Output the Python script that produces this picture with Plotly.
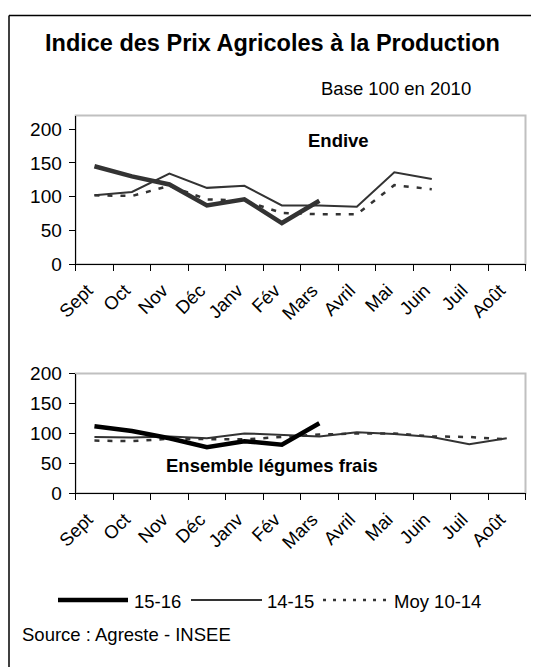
import plotly.graph_objects as go

# The page body adds an 8px margin, so the figure is drawn 8px right/down.
OFF = 8
W, H = 531, 659
FONT = "Liberation Sans, Arial, sans-serif"

months = ["Sept", "Oct", "Nov", "Déc", "Janv", "Fév", "Mars", "Avril", "Mai", "Juin", "Juil", "Août"]
y_ticks = [0, 50, 100, 150, 200]

endive_1516 = [145, 130, 118, 87, 96, 61, 94, None, None, None, None, None]
endive_1415 = [102, 107, 134, 113, 116, 87, 87, 85, 136, 126, None, None]
endive_moy = [102, 101, 116, 96, 94, 76, 74, 74, 117, 111, None, None]

legumes_1516 = [112, 104, 92, 77, 87, 81, 117, None, None, None, None, None]
legumes_1415 = [94, 93, 95, 92, 100, 98, 95, 102, 99, 94, 82, 92]
legumes_moy = [88, 87, 91, 90, 90, 94, 98, 100, 100, 95, 94, 90]

series_names = ["15-16", "14-15", "Moy 10-14"]


def px(x):
    return (x - OFF) / W


def py(y):
    return 1 - (y - OFF) / H


fig = go.Figure()

# Endive
fig.add_trace(go.Scatter(x=months, y=endive_1415, mode="lines", name=series_names[1],
                         line=dict(color="#333333", width=2), xaxis="x", yaxis="y"))
fig.add_trace(go.Scatter(x=months, y=endive_moy, mode="lines", name=series_names[2],
                         line=dict(color="#333333", width=2.5, dash="5px,8px"), xaxis="x", yaxis="y"))
fig.add_trace(go.Scatter(x=months, y=endive_1516, mode="lines", name=series_names[0],
                         line=dict(color="#333333", width=4.5), xaxis="x", yaxis="y"))

# Ensemble légumes frais
fig.add_trace(go.Scatter(x=months, y=legumes_1415, mode="lines", name=series_names[1],
                         line=dict(color="#333333", width=2), xaxis="x2", yaxis="y2"))
fig.add_trace(go.Scatter(x=months, y=legumes_moy, mode="lines", name=series_names[2],
                         line=dict(color="#333333", width=2.5, dash="5px,8px"), xaxis="x2", yaxis="y2"))
fig.add_trace(go.Scatter(x=months, y=legumes_1516, mode="lines", name=series_names[0],
                         line=dict(color="#000000", width=4.5), xaxis="x2", yaxis="y2"))

xdom = [px(75.7), px(525.5)]
xaxis_common = dict(
    type="category", categoryorder="array", categoryarray=months,
    range=[-0.5, 11.5], domain=xdom,
    showline=True, linecolor="black", linewidth=1.2,
    ticks="outside", ticklen=6, tickcolor="black", tickson="boundaries",
    tickangle=-45, ticklabelstandoff=7, ticklabelshift=-7,
    tickfont=dict(family=FONT, size=18.5, color="black"),
    showgrid=False, zeroline=False, automargin=False, fixedrange=True,
)
yaxis_common = dict(
    tickvals=y_ticks,
    showline=True, linecolor="black", linewidth=1.2,
    ticks="outside", ticklen=6, tickcolor="black", ticklabelstandoff=3,
    tickfont=dict(family=FONT, size=19, color="black"),
    showgrid=False, zeroline=False, automargin=False, fixedrange=True,
)

fig.update_layout(
    width=W, height=H,
    margin=dict(l=0, r=0, t=0, b=0),
    paper_bgcolor="white", plot_bgcolor="white",
    showlegend=False,
    xaxis=dict(anchor="y", **xaxis_common),
    yaxis=dict(anchor="x", domain=[py(264.3), py(115.5)], range=[0, 220], **yaxis_common),
    xaxis2=dict(anchor="y2", **xaxis_common),
    yaxis2=dict(anchor="x2", domain=[py(493.3), py(373.5)], range=[0, 200], **yaxis_common),
)

shapes = [
    # plot area boxes
    dict(type="rect", xref="x domain", yref="y domain", x0=0, x1=1, y0=0, y1=1,
         line=dict(color="#c0c0c0", width=2), layer="below"),
    dict(type="rect", xref="x2 domain", yref="y2 domain", x0=0, x1=1, y0=0, y1=1,
         line=dict(color="#c0c0c0", width=2), layer="below"),
    # outer frame (top and left)
    dict(type="line", xref="paper", yref="paper", x0=px(9), x1=1.05, y0=py(15.5), y1=py(15.5),
         line=dict(color="black", width=1.5)),
    dict(type="line", xref="paper", yref="paper", x0=px(9), x1=px(9), y0=py(15.5), y1=-0.05,
         line=dict(color="black", width=1.5)),
    # legend keys
    dict(type="line", xref="paper", yref="paper", x0=px(58), x1=px(128), y0=py(600), y1=py(600),
         line=dict(color="black", width=4.5)),
    dict(type="line", xref="paper", yref="paper", x0=px(191), x1=px(262), y0=py(600), y1=py(600),
         line=dict(color="#333333", width=2)),
    dict(type="line", xref="paper", yref="paper", x0=px(323), x1=px(392), y0=py(600), y1=py(600),
         line=dict(color="#333333", width=2.5, dash="3px,7px")),
]
fig.update_layout(shapes=shapes)

ann = [
    dict(text="<b>Indice des Prix Agricoles à la Production</b>", x=px(272), y=py(43),
         xanchor="center", yanchor="middle", font=dict(family=FONT, size=23.5, color="black")),
    dict(text="Base 100 en 2010", x=px(396), y=py(89),
         xanchor="center", yanchor="middle", font=dict(family=FONT, size=18.5, color="black")),
    dict(text="<b>Endive</b>", x=px(338.5), y=py(140),
         xanchor="center", yanchor="middle", font=dict(family=FONT, size=18.5, color="black")),
    dict(text="<b>Ensemble légumes frais</b>", x=px(272), y=py(465),
         xanchor="center", yanchor="middle", font=dict(family=FONT, size=18.5, color="black")),
    dict(text=series_names[0], x=px(132), y=py(601),
         xanchor="left", yanchor="middle", font=dict(family=FONT, size=18.5, color="black")),
    dict(text=series_names[1], x=px(265), y=py(601),
         xanchor="left", yanchor="middle", font=dict(family=FONT, size=18.5, color="black")),
    dict(text=series_names[2], x=px(392), y=py(601),
         xanchor="left", yanchor="middle", font=dict(family=FONT, size=18.5, color="black")),
    dict(text="Source : Agreste - INSEE", x=px(20), y=py(634),
         xanchor="left", yanchor="middle", font=dict(family=FONT, size=18.5, color="black")),
]
for a in ann:
    a.update(xref="paper", yref="paper", showarrow=False)
fig.update_layout(annotations=ann)

fig.write_html("out.html")
